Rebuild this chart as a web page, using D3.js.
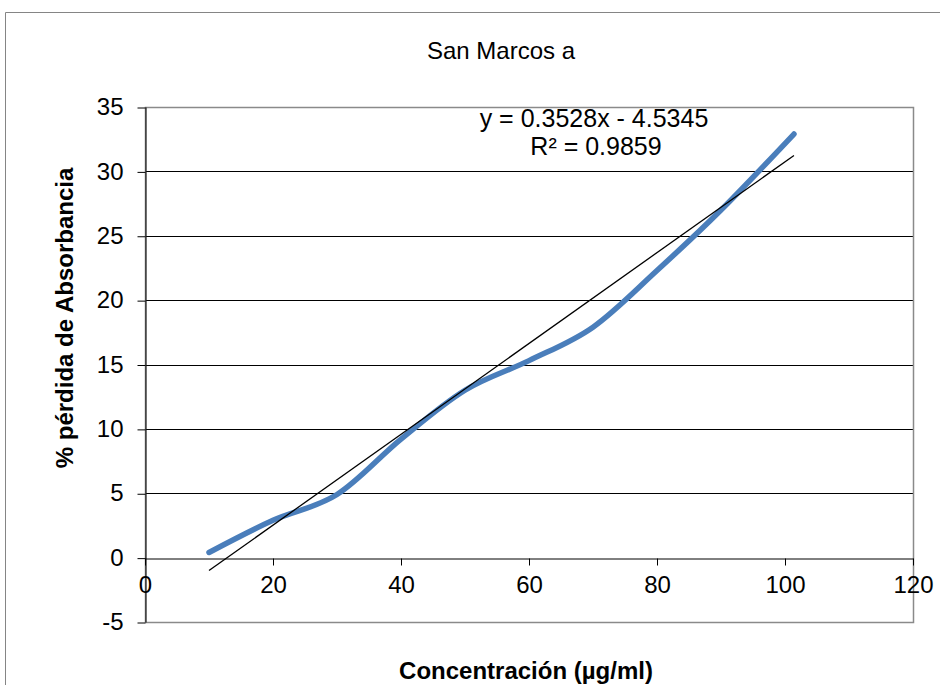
<!DOCTYPE html>
<html>
<head>
<meta charset="utf-8">
<script src="https://cdn.jsdelivr.net/npm/d3@7"></script>
<style>
  body { margin: 0; background: #fff; }
  text { font-family: "Liberation Sans", Arial, sans-serif; fill: #000; }
</style>
</head>
<body>
<script>
// values
const concentrations = [10, 20, 30, 40, 50, 60, 70, 80, 90, 101.4];
const absorbanceLoss = [0.4, 2.9, 4.9, 9.2, 13.0, 15.3, 17.9, 22.3, 27.0, 32.9];
const trend = { slope: 0.3528, intercept: -4.5345, r2: 0.9859 };
const xTicks = [0, 20, 40, 60, 80, 100, 120];
const yTicks = [-5, 0, 5, 10, 15, 20, 25, 30, 35];

const width = 940, height = 685;
const plot = { left: 145, right: 913, top: 107, bottom: 622 };
const fontFamily = '"Liberation Sans", Arial, sans-serif';

const svg = d3.select('body')
  .append('svg')
  .attr('width', width)
  .attr('height', height);

// outer chart frame (right side is cut off in the picture)
svg.append('path')
  .attr('d', `M5.5,${height} V12.5 H${width}`)
  .attr('fill', 'none')
  .attr('stroke', '#858585');

const x = d3.scaleLinear().domain([0, 120]).range([plot.left, plot.right]);
const y = d3.scaleLinear().domain([-5, 35]).range([plot.bottom, plot.top]);
const px = v => Math.round(v) + 0.5;

// gridlines
svg.append('g')
  .selectAll('line')
  .data(yTicks.filter(d => d !== -5 && d !== 35 && d !== 0))
  .join('line')
  .attr('x1', plot.left).attr('x2', plot.right)
  .attr('y1', d => px(y(d))).attr('y2', d => px(y(d)))
  .attr('stroke', '#000');

// plot area border
svg.append('rect')
  .attr('x', plot.left + 0.5).attr('y', plot.top + 0.5)
  .attr('width', plot.right - plot.left).attr('height', plot.bottom - plot.top)
  .attr('fill', 'none')
  .attr('stroke', '#8a8a8a')
  .attr('stroke-width', 1.5);

// y axis
const yAxis = svg.append('g')
  .attr('transform', `translate(${px(plot.left)},0)`)
  .call(d3.axisLeft(y).tickValues(yTicks).tickFormat(d => String(d))
    .tickSize(8).tickSizeOuter(0).tickPadding(14));
yAxis.select('.domain').attr('stroke', '#000');
yAxis.selectAll('.tick line').attr('stroke', '#000')
  .attr('transform', 'translate(0,0.5)');
yAxis.selectAll('.tick text')
  .style('font-size', '24px')
  .style('font-family', fontFamily)
  .attr('fill', '#000');

// x axis sits on y = 0
const xAxis = svg.append('g')
  .attr('transform', `translate(0,${px(y(0))})`)
  .call(d3.axisBottom(x).tickValues(xTicks).tickFormat(d => String(d))
    .tickSize(7).tickSizeOuter(0).tickPadding(10));
xAxis.select('.domain').attr('stroke', '#000');
xAxis.selectAll('.tick line').attr('stroke', '#000');
xAxis.selectAll('.tick text')
  .style('font-size', '24px')
  .style('font-family', fontFamily)
  .attr('fill', '#000');

// data series (smoothed)
const points = concentrations.map((c, i) => [c, absorbanceLoss[i]]);
svg.append('path')
  .datum(points)
  .attr('d', d3.line()
    .x(d => x(d[0]))
    .y(d => y(d[1]))
    .curve(d3.curveCardinal.tension(0)))
  .attr('fill', 'none')
  .attr('stroke', '#4a7ebb')
  .attr('stroke-width', 5.5)
  .attr('stroke-linecap', 'round');

// linear trendline
const x0 = d3.min(concentrations), x1 = d3.max(concentrations);
svg.append('line')
  .attr('x1', x(x0)).attr('y1', y(trend.slope * x0 + trend.intercept))
  .attr('x2', x(x1)).attr('y2', y(trend.slope * x1 + trend.intercept))
  .attr('stroke', '#000')
  .attr('stroke-width', 1.3);

// equation label
const eq = svg.append('g').attr('text-anchor', 'middle').style('font-size', '25px');
eq.append('text').attr('x', 594).attr('y', 127)
  .text(`y = ${trend.slope}x - ${Math.abs(trend.intercept)}`);
eq.append('text').attr('x', 596).attr('y', 155)
  .text(`R² = ${trend.r2}`);

// title
svg.append('text')
  .attr('x', 501).attr('y', 59)
  .attr('text-anchor', 'middle')
  .style('font-size', '24px')
  .text('San Marcos a');

// axis titles
svg.append('text')
  .attr('x', 526).attr('y', 679)
  .attr('text-anchor', 'middle')
  .style('font-size', '24px')
  .style('font-weight', 'bold')
  .text('Concentración (µg/ml)');

svg.append('text')
  .attr('transform', 'translate(73,318) rotate(-90)')
  .attr('text-anchor', 'middle')
  .style('font-size', '24px')
  .style('font-weight', 'bold')
  .text('% pérdida de Absorbancia');
</script>
</body>
</html>
